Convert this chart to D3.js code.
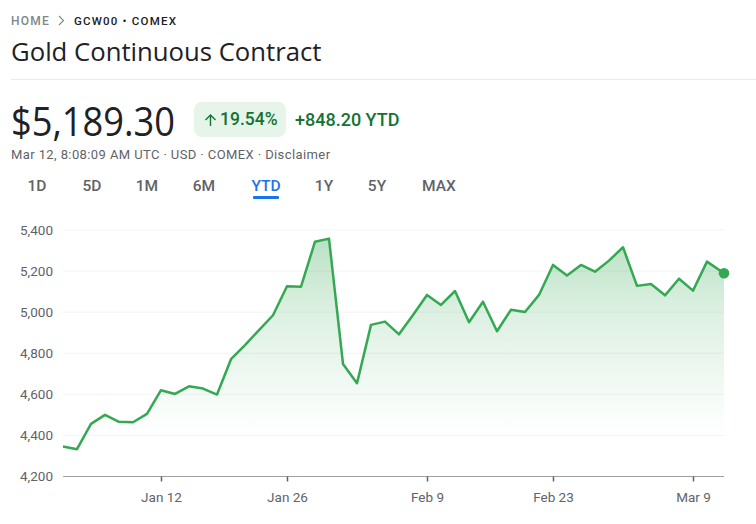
<!DOCTYPE html>
<html>
<head>
<meta charset="utf-8">
<script src="https://cdn.jsdelivr.net/npm/d3@7"></script>
<style>
  html, body { margin: 0; padding: 0; background: #fff; }
  svg { display: block; }
  text { font-family: Roboto, sans-serif; }
  .axis path, .axis line { fill: none; }
  .axis text { font-size: 13.5px; fill: #5f6368; font-family: Roboto, sans-serif; }
</style>
</head>
<body>
<svg width="756" height="524"></svg>
<script>
// trading days shown on the YTD view
const dates = [
  "Dec 31", "Jan 2", "Jan 5", "Jan 6", "Jan 7", "Jan 8", "Jan 9", "Jan 12",
  "Jan 13", "Jan 14", "Jan 15", "Jan 16", "Jan 20", "Jan 21", "Jan 22", "Jan 23",
  "Jan 26", "Jan 27", "Jan 28", "Jan 29", "Jan 30", "Feb 2", "Feb 3", "Feb 4",
  "Feb 5", "Feb 6", "Feb 9", "Feb 10", "Feb 11", "Feb 12", "Feb 13", "Feb 17",
  "Feb 18", "Feb 19", "Feb 20", "Feb 23", "Feb 24", "Feb 25", "Feb 26", "Feb 27",
  "Mar 2", "Mar 3", "Mar 4", "Mar 5", "Mar 6", "Mar 9", "Mar 10", "Mar 11",
];
const prices = [
  4346, 4333, 4456, 4500, 4466, 4464, 4505, 4620,
  4602, 4639, 4628, 4599, 4771, 4840, 4913, 4985,
  5126, 5124, 5343, 5358, 4748, 4654, 4938, 4954,
  4892, 4986, 5084, 5035, 5103, 4951, 5051, 4907,
  5012, 5001, 5084, 5230, 5178, 5230, 5197, 5251,
  5316, 5128, 5137, 5082, 5163, 5105, 5246, 5189.3,
];
const yTicks = [4200, 4400, 4600, 4800, 5000, 5200, 5400];
const xTicks = ["Jan 12", "Jan 26", "Feb 9", "Feb 23", "Mar 9"];
const ranges = ["1D", "5D", "1M", "6M", "YTD", "1Y", "5Y", "MAX"];
const rangeX = [37, 92, 147, 204, 266, 324, 377, 439];

const green = "#34a853";
const svg = d3.select("svg");

// header text
const label = (x, y, str, size, fill, opts = {}) =>
  svg.append("text")
    .attr("x", x).attr("y", y)
    .attr("font-size", size)
    .attr("fill", fill)
    .attr("text-anchor", opts.anchor || "start")
    .attr("font-weight", opts.weight || 400)
    .style("letter-spacing", opts.spacing || null)
    .style("font-family", opts.family || null)
    .text(str);

label(11, 25, "HOME", 12, "#80868b", { weight: 500, spacing: "1.2px" });
svg.append("path")
  .attr("d", "M59 16l4.5 4.5l-4.5 4.5")
  .attr("fill", "none").attr("stroke", "#80868b").attr("stroke-width", 1.1);
label(74, 25, "GCW00 • COMEX", 11.5, "#202124", { weight: 500, spacing: "1.2px" });
label(11, 61, "Gold Continuous Contract", 25.7, "#202124", { family: "'Open Sans', sans-serif" });
svg.append("line")
  .attr("x1", 11).attr("x2", 756).attr("y1", 79.5).attr("y2", 79.5)
  .attr("stroke", "#e8eaed");

// the price is narrower than Open Sans at this height
label(11, 136, "$5,189.30", 40, "#202124", { family: "'Open Sans', sans-serif" })
  .attr("textLength", 164)
  .attr("lengthAdjust", "spacingAndGlyphs");
svg.append("rect")
  .attr("x", 194).attr("y", 102).attr("width", 92).attr("height", 35).attr("rx", 8)
  .attr("fill", "#e6f4ea");
svg.append("path")
  .attr("d", "M210.5 126V115M205.5 120l5-5l5 5")
  .attr("fill", "none").attr("stroke", "#137333").attr("stroke-width", 1.4);
label(220, 125, "19.54%", 17.5, "#137333", { weight: 500 });
label(295, 126, "+848.20 YTD", 18, "#137333", { weight: 500 });
label(11, 159, "Mar 12, 8:08:09 AM UTC · USD · COMEX · Disclaimer", 13, "#5f6368", { spacing: "0.4px" });

ranges.forEach((r, i) => {
  label(rangeX[i], 191, r, 15.5, r === "YTD" ? "#1a73e8" : "#5f6368", { anchor: "middle", weight: 500 });
});
svg.append("rect")
  .attr("x", 253).attr("y", 196).attr("width", 26).attr("height", 3).attr("rx", 1)
  .attr("fill", "#1a73e8");

// chart: even steps per trading day, the latest session sits a bit further out
const last = dates.length - 1;
const x = d3.scaleLinear().domain([0, last - 1, last]).range([63, 707, 724]);
const y = d3.scaleLinear().domain([4200, 5400]).range([476.5, 230]);

const defs = svg.append("defs");
const grad = defs.append("linearGradient")
  .attr("id", "fade")
  .attr("gradientUnits", "userSpaceOnUse")
  .attr("x1", 0).attr("x2", 0)
  .attr("y1", y(d3.max(prices))).attr("y2", y(4400));
grad.append("stop").attr("offset", 0).attr("stop-color", green).attr("stop-opacity", 0.34);
grad.append("stop").attr("offset", 0.37).attr("stop-color", green).attr("stop-opacity", 0.17);
grad.append("stop").attr("offset", 0.8).attr("stop-color", green).attr("stop-opacity", 0.05);
grad.append("stop").attr("offset", 1).attr("stop-color", green).attr("stop-opacity", 0);

// gridlines
svg.append("g")
  .selectAll("line")
  .data(yTicks.filter((d) => d > 4200))
  .join("line")
  .attr("x1", 63).attr("x2", 724)
  .attr("y1", (d) => y(d)).attr("y2", (d) => y(d))
  .attr("stroke", "#f1f3f4");

const area = d3.area()
  .x((d, i) => x(i))
  .y0(y(4200))
  .y1((d) => y(d));
const line = d3.line()
  .x((d, i) => x(i))
  .y((d) => y(d));

svg.append("path").datum(prices).attr("d", area).attr("fill", "url(#fade)");

// axes
const yAxis = svg.append("g")
  .attr("class", "axis")
  .attr("transform", "translate(63,0)")
  .call(d3.axisLeft(y).tickValues(yTicks).tickFormat(d3.format(",")).tickSize(0));
yAxis.select(".domain").remove();
yAxis.selectAll("text").attr("x", -10);

const xAxis = svg.append("g")
  .attr("class", "axis")
  .attr("transform", "translate(0,476.5)")
  .call(d3.axisBottom(x)
    .tickValues(xTicks.map((d) => dates.indexOf(d)))
    .tickFormat((i) => dates[i])
    .tickSize(5)
    .tickPadding(11));
xAxis.select(".domain").attr("stroke", "#9aa0a6").attr("d", "M63,0H724");
xAxis.selectAll(".tick line").attr("stroke", "#5f6368").attr("stroke-width", 1.5);

svg.append("path")
  .datum(prices)
  .attr("d", line)
  .attr("fill", "none")
  .attr("stroke", green)
  .attr("stroke-width", 2.5)
  .attr("stroke-linejoin", "round");

svg.append("circle")
  .attr("cx", x(last))
  .attr("cy", y(prices[last]))
  .attr("r", 5.3)
  .attr("fill", green);
</script>
</body>
</html>
